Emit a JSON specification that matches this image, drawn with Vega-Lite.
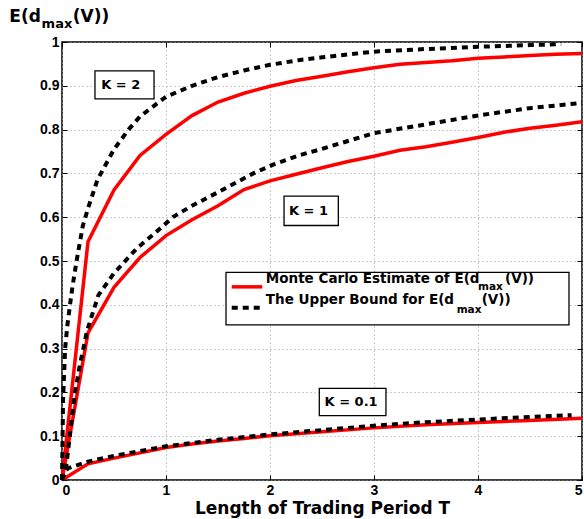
{
  "$schema": "https://vega.github.io/schema/vega-lite/v6.json",
  "width": 520,
  "height": 438,
  "autosize": {"type": "none"},
  "padding": {"left": 62, "top": 42, "right": 2, "bottom": 39},
  "background": "white",
  "config": {
    "view": {"stroke": "black", "strokeWidth": 1.5},
    "font": "DejaVu Sans",
    "axis": {
      "domain": false,
      "tickColor": "black",
      "tickSize": -5,
      "tickWidth": 1,
      "gridColor": "#9a9a9a",
      "gridDash": [1, 3],
      "gridWidth": 1,
      "labelFont": "Liberation Sans",
      "labelFontWeight": "bold",
      "labelFontSize": 14,
      "labelColor": "black",
      "titleFont": "DejaVu Sans",
      "titleFontWeight": "bold",
      "titleColor": "black"
    }
  },
  "datasets": {
    "mc": [
      {"series": "K=2", "T": 0, "v": 0},
      {"series": "K=2", "T": 0.25, "v": 0.544},
      {"series": "K=2", "T": 0.5, "v": 0.662},
      {"series": "K=2", "T": 0.75, "v": 0.741},
      {"series": "K=2", "T": 1.0, "v": 0.789},
      {"series": "K=2", "T": 1.25, "v": 0.832},
      {"series": "K=2", "T": 1.5, "v": 0.863},
      {"series": "K=2", "T": 1.75, "v": 0.883},
      {"series": "K=2", "T": 2.0, "v": 0.899},
      {"series": "K=2", "T": 2.25, "v": 0.912},
      {"series": "K=2", "T": 2.5, "v": 0.922},
      {"series": "K=2", "T": 2.75, "v": 0.932},
      {"series": "K=2", "T": 3.0, "v": 0.941},
      {"series": "K=2", "T": 3.25, "v": 0.949},
      {"series": "K=2", "T": 3.5, "v": 0.953},
      {"series": "K=2", "T": 3.75, "v": 0.957},
      {"series": "K=2", "T": 4.0, "v": 0.963},
      {"series": "K=2", "T": 4.25, "v": 0.966},
      {"series": "K=2", "T": 4.5, "v": 0.969},
      {"series": "K=2", "T": 4.75, "v": 0.972},
      {"series": "K=2", "T": 5.0, "v": 0.974},
      {"series": "K=1", "T": 0, "v": 0},
      {"series": "K=1", "T": 0.25, "v": 0.336},
      {"series": "K=1", "T": 0.5, "v": 0.44},
      {"series": "K=1", "T": 0.75, "v": 0.508},
      {"series": "K=1", "T": 1.0, "v": 0.558},
      {"series": "K=1", "T": 1.25, "v": 0.594},
      {"series": "K=1", "T": 1.5, "v": 0.626},
      {"series": "K=1", "T": 1.75, "v": 0.663},
      {"series": "K=1", "T": 2.0, "v": 0.683},
      {"series": "K=1", "T": 2.25, "v": 0.698},
      {"series": "K=1", "T": 2.5, "v": 0.713},
      {"series": "K=1", "T": 2.75, "v": 0.727},
      {"series": "K=1", "T": 3.0, "v": 0.739},
      {"series": "K=1", "T": 3.25, "v": 0.753},
      {"series": "K=1", "T": 3.5, "v": 0.761},
      {"series": "K=1", "T": 3.75, "v": 0.771},
      {"series": "K=1", "T": 4.0, "v": 0.782},
      {"series": "K=1", "T": 4.25, "v": 0.794},
      {"series": "K=1", "T": 4.5, "v": 0.803},
      {"series": "K=1", "T": 4.75, "v": 0.81},
      {"series": "K=1", "T": 5.0, "v": 0.818},
      {"series": "K=0.1", "T": 0, "v": 0},
      {"series": "K=0.1", "T": 0.25, "v": 0.037},
      {"series": "K=0.1", "T": 0.5, "v": 0.05},
      {"series": "K=0.1", "T": 0.75, "v": 0.062},
      {"series": "K=0.1", "T": 1.0, "v": 0.074},
      {"series": "K=0.1", "T": 1.25, "v": 0.082},
      {"series": "K=0.1", "T": 1.5, "v": 0.089},
      {"series": "K=0.1", "T": 1.75, "v": 0.095},
      {"series": "K=0.1", "T": 2.0, "v": 0.101},
      {"series": "K=0.1", "T": 2.5, "v": 0.11},
      {"series": "K=0.1", "T": 3.0, "v": 0.119},
      {"series": "K=0.1", "T": 3.5, "v": 0.126},
      {"series": "K=0.1", "T": 4.0, "v": 0.131},
      {"series": "K=0.1", "T": 4.5, "v": 0.136},
      {"series": "K=0.1", "T": 5.0, "v": 0.141}
    ],
    "ub": [
      {"series": "K=2", "T": 0, "v": 0},
      {"series": "K=2", "T": 0.01, "v": 0.18},
      {"series": "K=2", "T": 0.03, "v": 0.3},
      {"series": "K=2", "T": 0.05, "v": 0.35},
      {"series": "K=2", "T": 0.077, "v": 0.4},
      {"series": "K=2", "T": 0.1, "v": 0.44},
      {"series": "K=2", "T": 0.14, "v": 0.5},
      {"series": "K=2", "T": 0.2, "v": 0.58},
      {"series": "K=2", "T": 0.25, "v": 0.62},
      {"series": "K=2", "T": 0.34, "v": 0.685},
      {"series": "K=2", "T": 0.5, "v": 0.755},
      {"series": "K=2", "T": 0.64, "v": 0.8},
      {"series": "K=2", "T": 0.75, "v": 0.83},
      {"series": "K=2", "T": 1.0, "v": 0.875},
      {"series": "K=2", "T": 1.25, "v": 0.9},
      {"series": "K=2", "T": 1.5, "v": 0.92},
      {"series": "K=2", "T": 1.75, "v": 0.935},
      {"series": "K=2", "T": 2.0, "v": 0.948},
      {"series": "K=2", "T": 2.29, "v": 0.959},
      {"series": "K=2", "T": 2.5, "v": 0.965},
      {"series": "K=2", "T": 3.0, "v": 0.978},
      {"series": "K=2", "T": 3.5, "v": 0.984},
      {"series": "K=2", "T": 4.0, "v": 0.989},
      {"series": "K=2", "T": 4.5, "v": 0.993},
      {"series": "K=2", "T": 4.8, "v": 0.995},
      {"series": "K=1", "T": 0, "v": 0},
      {"series": "K=1", "T": 0.04, "v": 0.03},
      {"series": "K=1", "T": 0.08, "v": 0.11},
      {"series": "K=1", "T": 0.125, "v": 0.2},
      {"series": "K=1", "T": 0.17, "v": 0.26},
      {"series": "K=1", "T": 0.24, "v": 0.34},
      {"series": "K=1", "T": 0.35, "v": 0.422},
      {"series": "K=1", "T": 0.5, "v": 0.472},
      {"series": "K=1", "T": 0.72, "v": 0.529},
      {"series": "K=1", "T": 0.89, "v": 0.563},
      {"series": "K=1", "T": 1.07, "v": 0.601},
      {"series": "K=1", "T": 1.25, "v": 0.626},
      {"series": "K=1", "T": 1.5, "v": 0.657},
      {"series": "K=1", "T": 1.84, "v": 0.7},
      {"series": "K=1", "T": 2.03, "v": 0.72},
      {"series": "K=1", "T": 2.29, "v": 0.742},
      {"series": "K=1", "T": 2.5, "v": 0.756},
      {"series": "K=1", "T": 3.0, "v": 0.792},
      {"series": "K=1", "T": 3.5, "v": 0.812},
      {"series": "K=1", "T": 4.02, "v": 0.833},
      {"series": "K=1", "T": 4.5, "v": 0.849},
      {"series": "K=1", "T": 5.0, "v": 0.861},
      {"series": "K=0.1", "T": 0, "v": 0},
      {"series": "K=0.1", "T": 0.03, "v": 0.02},
      {"series": "K=0.1", "T": 0.06, "v": 0.027},
      {"series": "K=0.1", "T": 0.25, "v": 0.042},
      {"series": "K=0.1", "T": 0.5, "v": 0.055},
      {"series": "K=0.1", "T": 1.0, "v": 0.077},
      {"series": "K=0.1", "T": 1.5, "v": 0.092},
      {"series": "K=0.1", "T": 2.0, "v": 0.104},
      {"series": "K=0.1", "T": 2.5, "v": 0.114},
      {"series": "K=0.1", "T": 3.0, "v": 0.124},
      {"series": "K=0.1", "T": 3.5, "v": 0.132},
      {"series": "K=0.1", "T": 4.0, "v": 0.138},
      {"series": "K=0.1", "T": 4.5, "v": 0.144},
      {"series": "K=0.1", "T": 4.9, "v": 0.148}
    ],
    "boxes": [
      {"name": "K=2", "T1": 0.317, "T2": 0.885, "v1": 0.87, "v2": 0.934},
      {"name": "K=1", "T1": 2.135, "T2": 2.657, "v1": 0.581, "v2": 0.648},
      {"name": "K=0.1", "T1": 2.474, "T2": 3.115, "v1": 0.147, "v2": 0.209},
      {"name": "legend", "T1": 1.577, "T2": 4.875, "v1": 0.354, "v2": 0.474}
    ],
    "klabels": [
      {"T": 0.565, "v": 0.902, "text": "K = 2"},
      {"T": 2.37, "v": 0.615, "text": "K = 1"},
      {"T": 2.78, "v": 0.178, "text": "K = 0.1"}
    ],
    "legMC": [{"T1": 1.632, "T2": 1.926, "v": 0.441}],
    "legUB": [{"T1": 1.632, "T2": 1.926, "v": 0.393}],
    "legMain": [
      {"T": 1.96, "v": 0.459, "text": "Monte Carlo Estimate of E(d"},
      {"T": 4.26, "v": 0.459, "text": "(V))"},
      {"T": 1.96, "v": 0.411, "text": "The Upper Bound for E(d"},
      {"T": 4.035, "v": 0.411, "text": "(V))"}
    ],
    "legSub": [
      {"T": 4.0, "v": 0.441, "text": "max"},
      {"T": 3.795, "v": 0.388, "text": "max"}
    ],
    "titleMain": [
      {"T": -0.507, "v": 1.056, "text": "E(d"},
      {"T": 0.103, "v": 1.056, "text": "(V))"}
    ],
    "titleSub": [
      {"T": -0.196, "v": 1.04, "text": "max"}
    ]
  },
  "resolve": {"axis": {"x": "independent", "y": "independent"}},
  "layer": [
    {
      "data": {"name": "mc"},
      "mark": {"type": "line", "color": "#ff0000", "strokeWidth": 3.5},
      "encoding": {
        "x": {
          "field": "T", "type": "quantitative",
          "scale": {"domain": [0, 5], "nice": false, "zero": false},
          "axis": {
            "values": [0, 1, 2, 3, 4, 5],
            "grid": true,
            "labelPadding": 8,
            "title": "Length of Trading Period T",
            "titleFontSize": 17,
            "titlePadding": 3
          }
        },
        "y": {
          "field": "v", "type": "quantitative",
          "scale": {"domain": [0, 1], "nice": false, "zero": false},
          "axis": {
            "values": [0, 0.1, 0.2, 0.3, 0.4, 0.5, 0.6, 0.7, 0.8, 0.9, 1],
            "grid": true,
            "labelPadding": 8,
            "labelExpr": "datum.value == 0 ? '0' : datum.value == 1 ? '1' : format(datum.value, '.1f')",
            "title": null
          }
        },
        "detail": {"field": "series"}
      }
    },
    {
      "data": {"name": "ub"},
      "mark": {"type": "line", "color": "black", "strokeWidth": 4, "strokeDash": [6, 5], "strokeCap": "butt"},
      "encoding": {
        "x": {
          "field": "T", "type": "quantitative",
          "axis": {"orient": "top", "values": [0, 1, 2, 3, 4, 5], "labels": false, "grid": false, "title": null}
        },
        "y": {
          "field": "v", "type": "quantitative",
          "axis": {"orient": "right", "values": [0, 0.1, 0.2, 0.3, 0.4, 0.5, 0.6, 0.7, 0.8, 0.9, 1], "labels": false, "grid": false, "title": null}
        },
        "detail": {"field": "series"}
      }
    },
    {
      "data": {"name": "boxes"},
      "mark": {"type": "rect", "fill": "white", "stroke": "black", "strokeWidth": 1.3},
      "encoding": {
        "x": {"field": "T1", "type": "quantitative", "axis": null},
        "x2": {"field": "T2"},
        "y": {"field": "v1", "type": "quantitative", "axis": null},
        "y2": {"field": "v2"}
      }
    },
    {
      "data": {"name": "klabels"},
      "mark": {"type": "text", "font": "DejaVu Sans", "fontWeight": "bold", "fontSize": 13, "align": "center", "baseline": "middle", "color": "black"},
      "encoding": {
        "x": {"field": "T", "type": "quantitative", "axis": null},
        "y": {"field": "v", "type": "quantitative", "axis": null},
        "text": {"field": "text"}
      }
    },
    {
      "data": {"name": "legMC"},
      "mark": {"type": "rule", "color": "#ff0000", "strokeWidth": 3.5},
      "encoding": {
        "x": {"field": "T1", "type": "quantitative", "axis": null},
        "x2": {"field": "T2"},
        "y": {"field": "v", "type": "quantitative", "axis": null}
      }
    },
    {
      "data": {"name": "legUB"},
      "mark": {"type": "rule", "color": "black", "strokeWidth": 4, "strokeDash": [6, 5], "strokeCap": "butt"},
      "encoding": {
        "x": {"field": "T1", "type": "quantitative", "axis": null},
        "x2": {"field": "T2"},
        "y": {"field": "v", "type": "quantitative", "axis": null}
      }
    },
    {
      "data": {"name": "legMain"},
      "mark": {"type": "text", "font": "DejaVu Sans", "fontWeight": "bold", "fontSize": 13.5, "align": "left", "baseline": "middle", "color": "black"},
      "encoding": {
        "x": {"field": "T", "type": "quantitative", "axis": null},
        "y": {"field": "v", "type": "quantitative", "axis": null},
        "text": {"field": "text"}
      }
    },
    {
      "data": {"name": "legSub"},
      "mark": {"type": "text", "font": "DejaVu Sans", "fontWeight": "bold", "fontSize": 10.5, "align": "left", "baseline": "middle", "color": "black"},
      "encoding": {
        "x": {"field": "T", "type": "quantitative", "axis": null},
        "y": {"field": "v", "type": "quantitative", "axis": null},
        "text": {"field": "text"}
      }
    },
    {
      "data": {"name": "titleMain"},
      "mark": {"type": "text", "font": "DejaVu Sans", "fontWeight": "bold", "fontSize": 17, "align": "left", "baseline": "middle", "color": "black"},
      "encoding": {
        "x": {"field": "T", "type": "quantitative", "axis": null},
        "y": {"field": "v", "type": "quantitative", "axis": null},
        "text": {"field": "text"}
      }
    },
    {
      "data": {"name": "titleSub"},
      "mark": {"type": "text", "font": "DejaVu Sans", "fontWeight": "bold", "fontSize": 13, "align": "left", "baseline": "middle", "color": "black"},
      "encoding": {
        "x": {"field": "T", "type": "quantitative", "axis": null},
        "y": {"field": "v", "type": "quantitative", "axis": null},
        "text": {"field": "text"}
      }
    }
  ]
}
